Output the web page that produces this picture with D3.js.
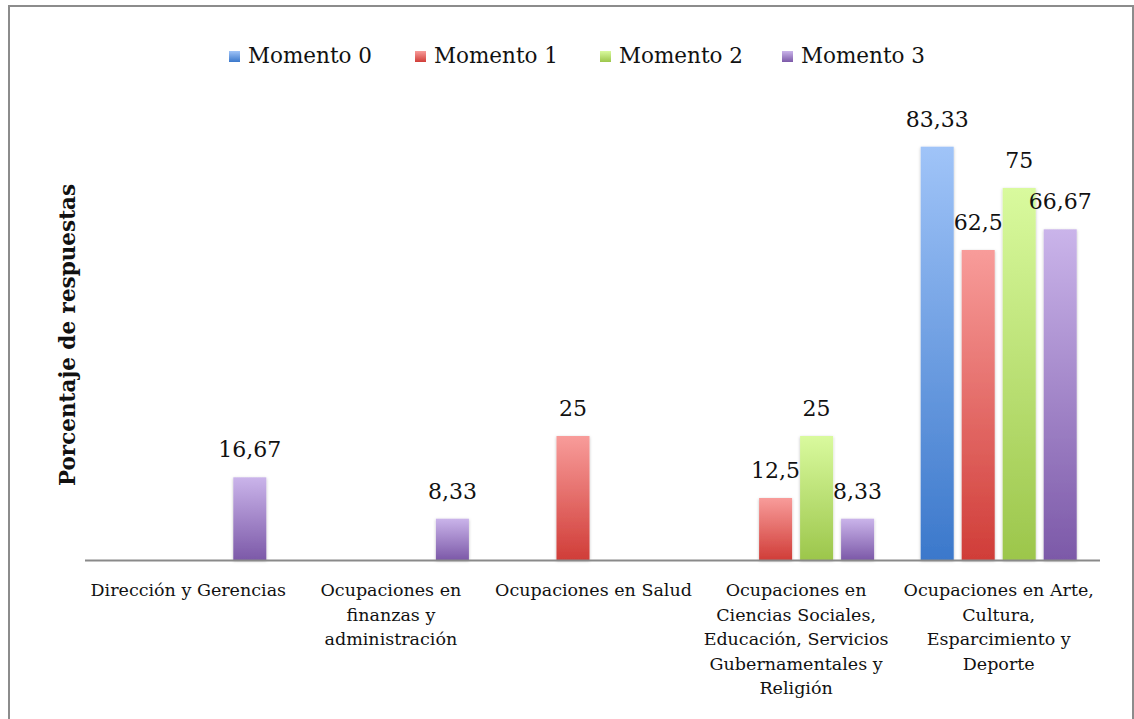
<!DOCTYPE html>
<html>
<head>
<meta charset="utf-8">
<script src="https://cdn.jsdelivr.net/npm/d3@7"></script>
<style>
  html, body { margin: 0; padding: 0; background: #fff; }
  svg { display: block; }
  text { font-family: "DejaVu Serif", "Liberation Serif", serif; fill: #111; }
</style>
</head>
<body>
<script>
// ---- data ----
const categories = [
  "Dirección y Gerencias",
  "Ocupaciones en finanzas y administración",
  "Ocupaciones en Salud",
  "Ocupaciones en Ciencias Sociales, Educación, Servicios Gubernamentales y Religión",
  "Ocupaciones en Arte, Cultura, Esparcimiento y Deporte"
];
const categoryLines = [
  ["Dirección y Gerencias"],
  ["Ocupaciones en", "finanzas y", "administración"],
  ["Ocupaciones en Salud"],
  ["Ocupaciones en", "Ciencias Sociales,", "Educación, Servicios", "Gubernamentales y", "Religión"],
  ["Ocupaciones en Arte,", "Cultura,", "Esparcimiento y", "Deporte"]
];
const seriesNames = ["Momento 0", "Momento 1", "Momento 2", "Momento 3"];
const momento0 = [0, 0, 0, 0, 83.33];
const momento1 = [0, 0, 25, 12.5, 62.5];
const momento2 = [0, 0, 0, 25, 75];
const momento3 = [16.67, 8.33, 0, 8.33, 66.67];
const seriesValues = [momento0, momento1, momento2, momento3];
const yAxisTitle = "Porcentaje de respuestas";

// ---- styles ----
const colorsTop = ["#a0c4f8", "#f89c9a", "#d9fa9e", "#cab4ea"];
const colorsBottom = ["#3b78cb", "#d03d38", "#9cc64b", "#7c59a8"];

const W = 1134, H = 719;
const svg = d3.select("body").append("svg").attr("width", W).attr("height", H);

// frame
svg.append("path")
  .attr("d", `M9,${H} L9,6 L1133,6 L1133,${H}`)
  .attr("fill", "none").attr("stroke", "#8c8c8c").attr("stroke-width", 2);

const defs = svg.append("defs");
seriesNames.forEach((s, i) => {
  const g = defs.append("linearGradient").attr("id", "grad" + i)
    .attr("x1", 0).attr("y1", 0).attr("x2", 0).attr("y2", 1);
  g.append("stop").attr("offset", "0%").attr("stop-color", colorsTop[i]);
  g.append("stop").attr("offset", "100%").attr("stop-color", colorsBottom[i]);
});
const f = defs.append("filter").attr("id", "shadow").attr("x", "-20%").attr("y", "-5%").attr("width", "140%").attr("height", "115%");
f.append("feDropShadow").attr("dx", 0).attr("dy", 1).attr("stdDeviation", 1.5).attr("flood-color", "#000").attr("flood-opacity", 0.25);

const plotLeft = 87, plotRight = 1100, baseY = 560, topY = 64;

const x0 = d3.scaleBand().domain(categories).range([plotLeft, plotRight]).paddingInner(0).paddingOuter(0);
const x1 = d3.scaleBand().domain(seriesNames).range([0, 164]).paddingInner(0.195).paddingOuter(0.0975);
const y = d3.scaleLinear().domain([0, 100]).range([baseY, topY]);

const groupOffset = (x0.bandwidth() - 164) / 2;

// bars
const groups = svg.append("g").selectAll("g").data(categories).join("g")
  .attr("transform", d => `translate(${x0(d) + groupOffset},0)`);

groups.each(function(cat, ci) {
  const g = d3.select(this);
  seriesNames.forEach((s, si) => {
    const v = seriesValues[si][ci];
    if (!v) return;
    g.append("rect")
      .attr("x", x1(s)).attr("y", y(v))
      .attr("width", x1.bandwidth()).attr("height", baseY - y(v))
      .attr("fill", `url(#grad${si})`)
      .attr("filter", "url(#shadow)");
    g.append("text")
      .attr("x", x1(s) + x1.bandwidth() / 2).attr("y", y(v) - 20)
      .attr("text-anchor", "middle").attr("font-size", 22)
      .text(String(v).replace(".", ","));
  });
});

// axis line
svg.append("line").attr("x1", plotLeft - 2).attr("x2", plotRight).attr("y1", baseY + 0.5).attr("y2", baseY + 0.5)
  .attr("stroke", "#8a8a8a").attr("stroke-width", 2);

// category labels
categories.forEach((c, ci) => {
  const t = svg.append("text").attr("text-anchor", "middle").attr("font-size", 17.5);
  categoryLines[ci].forEach((ln, li) => {
    t.append("tspan").attr("x", x0(c) + x0.bandwidth() / 2).attr("y", 596 + li * 24.5).text(ln);
  });
});

// y title
svg.append("text")
  .attr("transform", `translate(75,${335}) rotate(-90)`)
  .attr("text-anchor", "middle").attr("font-size", 21.5).attr("font-weight", "bold")
  .text(yAxisTitle);

// legend
const legendX = [229, 415, 600, 782];
seriesNames.forEach((s, i) => {
  svg.append("rect").attr("x", legendX[i]).attr("y", 51).attr("width", 11).attr("height", 11)
    .attr("fill", `url(#grad${i})`);
  svg.append("text").attr("x", legendX[i] + 19).attr("y", 63).attr("font-size", 21.5).text(s);
});
</script>
</body>
</html>
